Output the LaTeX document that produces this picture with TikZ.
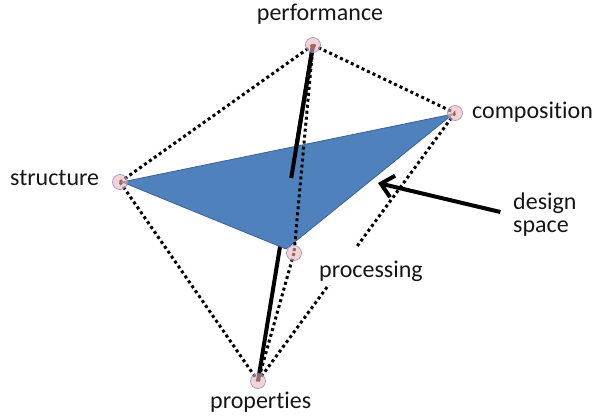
\documentclass[tikz,border=0pt]{standalone}
\usepackage{fontspec}
\setmainfont{Carlito}[Ligatures={NoCommon,NoRequired,NoContextual}]
\usetikzlibrary{arrows.meta,calc}
\definecolor{tri}{HTML}{4F81BD}
\definecolor{triedge}{HTML}{3A6294}
\definecolor{vfill}{HTML}{F0B4B4}
\definecolor{vedge}{HTML}{8E8EDC}
\definecolor{txt}{HTML}{161616}
\begin{document}
\begin{tikzpicture}[x=1pt,y=-1pt,
  lbl/.style={font=\fontsize{24}{23}\selectfont, text=txt, inner sep=0pt},
  dotline/.style={line width=3pt, dash pattern=on 3pt off 3pt, black},
  solidline/.style={line width=4pt, black},
  vtx/.style={circle, minimum size=15pt, inner sep=0pt, fill=vfill, fill opacity=0.6, draw=vedge, draw opacity=0.8, line width=0.8pt},
  plane/.style={fill=tri, draw=triedge, line width=0.8pt, line join=miter}
]
\useasboundingbox (0,0) rectangle (602,417);
% vertices
\coordinate (perf) at (313,45);
\coordinate (comp) at (455,113);
\coordinate (struc) at (120,182);
\coordinate (proc) at (294,253);
\coordinate (prop) at (258,381);
% plane corners
\coordinate (ta) at (122,182);
\coordinate (tb) at (453,114);
\coordinate (tc) at (286,249);
\coordinate (pierce) at ($(perf)!0.396!(prop)$);

% hidden part of solid edge
\draw[solidline] (perf) -- (prop);

% dotted edges
\draw[dotline] (perf) -- (struc);
\draw[dotline] (perf) -- (comp);
\draw[dotline] (struc) -- (prop);
\draw[dotline] (proc) -- (prop);
\draw[dotline] (comp) -- (prop);

% labels
\node[lbl, anchor=base] (lperf) at (320,21) {performance};
\node[lbl, anchor=base west] (lcomp) at (472,119) {composition};
\node[lbl, anchor=base west] (lstruc) at (10,185) {structure};
\node[lbl, anchor=base west] (lprop) at (210,408) {properties};
\node[lbl, anchor=base west, fill=white, text height=30pt, text depth=8pt, inner xsep=2pt] (lproc) at (317,277) {processing};

% design plane
\fill[plane] (ta) -- (tb) -- (tc) -- cycle;

% visible parts over the plane
\draw[solidline] (perf) -- (pierce);
\draw[dotline] (perf) -- (proc);

% vertex markers
\node[vtx] (vperf) at (perf) {};
\node[vtx] (vcomp) at (comp) {};
\node[vtx] (vstruc) at (struc) {};
\node[vtx] (vproc) at (proc) {};
\node[vtx] (vprop) at (prop) {};

% design space
\node[lbl, align=left, anchor=west] (ds) at (513,215) {design\\space};
\coordinate (dshead) at (378,183);
\draw[line width=4pt, shorten <=13pt, -{Straight Barb[length=12pt,width=22pt]}] (ds.west) -- (dshead);
\end{tikzpicture}
\end{document}
